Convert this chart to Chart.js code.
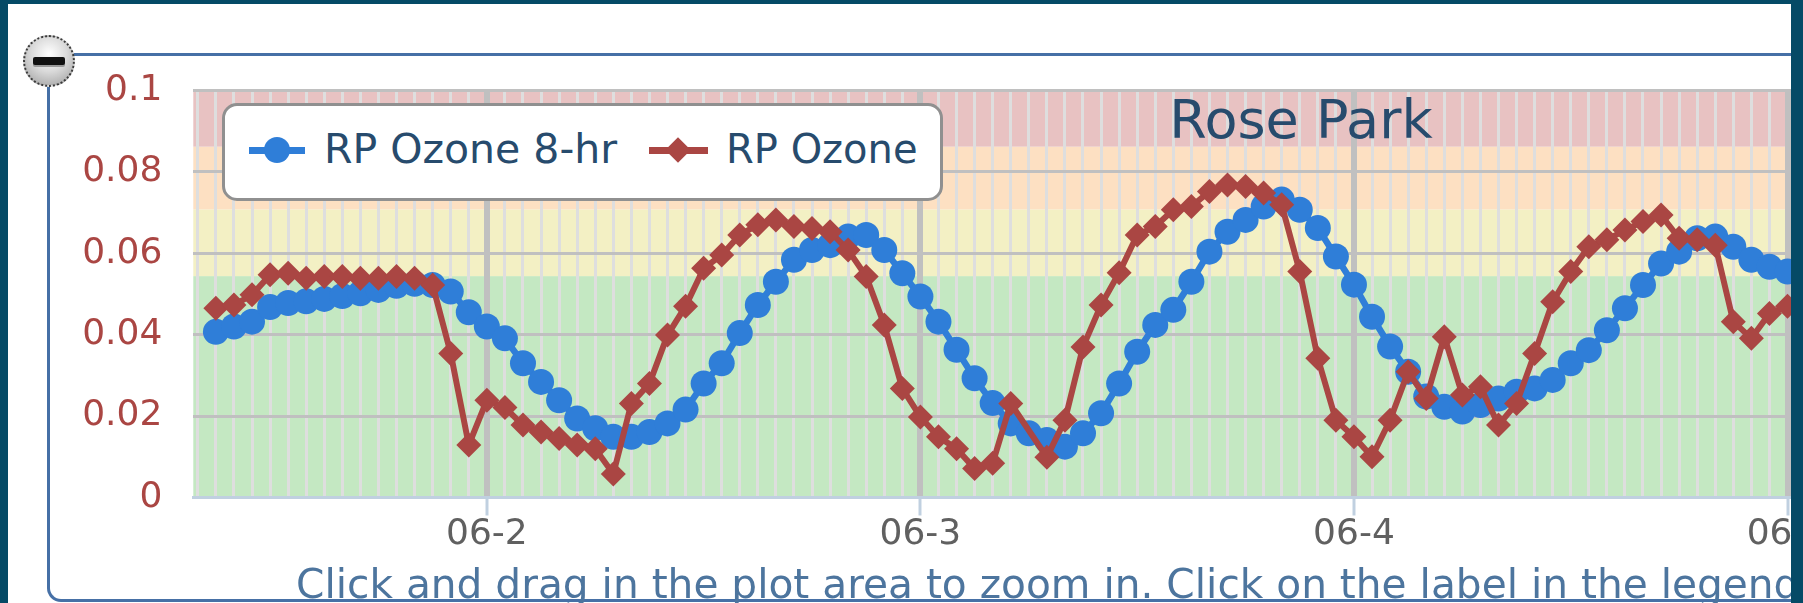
<!DOCTYPE html>
<html lang="en">
<head>
  <meta charset="UTF-8">
  <title>Rose Park Ozone</title>
  <script src="https://cdn.jsdelivr.net/npm/chart.js"></script>
  <style>
    html, body { margin: 0; padding: 0; }
    body { width: 1803px; height: 603px; background: #054a66; overflow: hidden; position: relative; font-family: 'DejaVu Sans', sans-serif; }
    #frame { position: absolute; left: 0; top: 0; width: 1791px; height: 603px; background: #fff; overflow: hidden; }
    #stripTop { position: absolute; left: 0; top: 0; width: 1803px; height: 4px; background: #054a66; z-index: 9; }
    #stripLeft { position: absolute; left: 0; top: 0; width: 8px; height: 603px; background: #054a66; z-index: 9; }
    #fieldset { position: absolute; left: 47px; top: 53px; width: 1800px; height: 549px; box-sizing: border-box;
      border-top: 3px solid #4670a6; border-left: 3px solid #4670a6; border-bottom: 3px solid #4670a6; border-bottom-left-radius: 14px; }
    #toggle { position: absolute; left: 23px; top: 35px; width: 52px; height: 52px; border-radius: 50%; box-sizing: border-box;
      border: 2px dotted #3a3a3a; background: radial-gradient(circle at 50% 35%, #ffffff 0%, #dadada 45%, #9a9a9a 100%); }
    #toggle::after { content: ''; position: absolute; left: 8px; right: 8px; top: 20px; height: 8px; background: #111; border-radius: 2px; box-shadow: 0 2px 0 #999; }
    #chart { position: absolute; left: 0; top: 0; }
    .txt { position: absolute; white-space: nowrap; }
    #title { left: 1001px; top: 93px; width: 600px; text-align: center; font-size: 54px; line-height: 54px; color: #274b6d; }
    #legendBox { position: absolute; left: 222px; top: 103px; width: 721px; height: 98px; box-sizing: border-box;
      border: 3px solid #909090; border-radius: 15px; background: #fff; }
    .legText { top: 129px; font-size: 40px; line-height: 40px; color: #274b6d; }
    .legLine { position: absolute; top: 147px; height: 7px; }
    #caption { left: 296px; top: 564px; font-size: 40.7px; line-height: 40px; color: #4d759e; }
  </style>
</head>
<body>
  <div id="frame">
    <div id="fieldset"></div>
    <canvas id="chart" width="1880" height="603" style="width:1880px;height:603px"></canvas>
    <div id="title" class="txt">Rose Park</div>
    <div id="legendBox"></div>
    <div class="legLine" style="left:249px;width:56px;background:#2f7ed8"></div>
    <div style="position:absolute;left:264px;top:137px;width:26px;height:26px;border-radius:50%;background:#2f7ed8"></div>
    <div class="txt legText" style="left:324px;font-size:41px">RP Ozone 8-hr</div>
    <div class="legLine" style="left:649px;width:59px;background:#aa4643"></div>
    <div style="position:absolute;left:669px;top:141px;width:18px;height:18px;transform:rotate(45deg);background:#aa4643"></div>
    <div class="txt legText" style="left:726px">RP Ozone</div>
    <div id="caption" class="txt">Click and drag in the plot area to zoom in. Click on the label in the legend</div>
    <div id="toggle"></div>
  </div>
  <div id="stripTop"></div>
  <div id="stripLeft"></div>

  <script>
    // hourly values, first point at 06-1 09:00 (hours counted from 06-1 00:00)
    const FIRST_HOUR = 9;
    const ozone8hr = [
      0.0407, 0.0420, 0.0432, 0.0468, 0.0478, 0.0482, 0.0488, 0.0495, 0.0502, 0.0510, 0.0520, 0.0525, 0.0522, 0.0506, 0.0455,
      0.0420, 0.0391, 0.0330, 0.0284, 0.0239, 0.0194, 0.0170, 0.0149, 0.0149, 0.0161, 0.0182, 0.0216, 0.0280, 0.0330,
      0.0404, 0.0473, 0.0530, 0.0584, 0.0608, 0.0620, 0.0641, 0.0645, 0.0608, 0.0551,
      0.0494, 0.0432, 0.0363, 0.0293, 0.0232, 0.0182, 0.0158, 0.0141, 0.0125, 0.0158, 0.0207, 0.0280, 0.0358, 0.0424,
      0.0461, 0.0530, 0.0604, 0.0653, 0.0682, 0.0715, 0.0732, 0.0707, 0.0662, 0.0592, 0.0523, 0.0444, 0.0371, 0.0309,
      0.0248, 0.0223, 0.0211, 0.0227, 0.0243, 0.0260, 0.0268, 0.0289, 0.0330, 0.0362, 0.0411, 0.0465, 0.0522, 0.0575,
      0.0604, 0.0637, 0.0641, 0.0616, 0.0584, 0.0567, 0.0555
    ];
    const ozone = [
      0.0465, 0.0473, 0.0498, 0.0547, 0.0551, 0.0539, 0.0543, 0.0543, 0.0539, 0.0539, 0.0543, 0.0539, 0.0522, 0.0354, 0.0129,
      0.0239, 0.0221, 0.0178, 0.0161, 0.0145, 0.0129, 0.0120, 0.0058, 0.0231, 0.0280, 0.0399, 0.0470, 0.0563, 0.0596,
      0.0645, 0.0670, 0.0682, 0.0666, 0.0661, 0.0653, 0.0608, 0.0543, 0.0424, 0.0268,
      0.0198, 0.0149, 0.0120, 0.0071, 0.0084, 0.0231, null, 0.0099, 0.0190, 0.0370, 0.0473, 0.0552, 0.0645, 0.0666,
      0.0707, 0.0715, 0.0752, 0.0768, 0.0764, 0.0748, 0.0719, 0.0555, 0.0342, 0.0190, 0.0149, 0.0100, 0.0190, 0.0309,
      0.0243, 0.0395, 0.0252, 0.0272, 0.0178, 0.0231, 0.0354, 0.0481, 0.0555, 0.0616, 0.0633, 0.0657, 0.0678, 0.0694,
      0.0637, 0.0633, 0.0620, 0.0432, 0.0391, 0.0452, 0.0470
    ];

    const dayTicks = [24, 48, 72, 96];
    const dayLabels = ['06-2', '06-3', '06-4', '06-5'];
    const yTicks = [0, 0.02, 0.04, 0.06, 0.08, 0.1];
    const yLabels = ['0', '0.02', '0.04', '0.06', '0.08', '0.1'];

    // air quality bands (good / moderate / usg / unhealthy)
    const bandEdges = [0, 0.0544, 0.0708, 0.0862, 0.1];
    const bandColors = ['#c4e8c2', '#f3f0c4', '#fde0c2', '#e8c2c2'];

    const X_MIN = 7.75, X_MAX = 100.4;
    const FONT = "'DejaVu Sans', sans-serif";
    const BLUE = '#2f7ed8', RED = '#aa4643';

    const hourTicks = [];
    for (let h = Math.ceil(X_MIN); h <= X_MAX; h++) hourTicks.push(h);
    const isDay = v => dayTicks.indexOf(v) >= 0;

    const toPoints = arr => arr.map((v, i) => ({ x: FIRST_HOUR + i, y: v }));

    const bandsPlugin = {
      id: 'bands',
      beforeDraw(chart) {
        const { ctx, chartArea, scales } = chart;
        ctx.save();
        for (let i = 0; i < bandColors.length; i++) {
          const top = scales.y.getPixelForValue(bandEdges[i + 1]);
          const bot = scales.y.getPixelForValue(bandEdges[i]);
          ctx.fillStyle = bandColors[i];
          ctx.fillRect(chartArea.left, top, chartArea.right - chartArea.left, bot - top);
        }
        ctx.restore();
      }
    };

    const ctx = document.getElementById('chart').getContext('2d');
    new Chart(ctx, {
      type: 'line',
      data: {
        datasets: [
          {
            label: 'RP Ozone 8-hr',
            data: toPoints(ozone8hr),
            borderColor: BLUE,
            backgroundColor: BLUE,
            borderWidth: 6.5,
            pointStyle: 'circle',
            pointRadius: 13,
            pointBorderWidth: 0,
            order: 1
          },
          {
            label: 'RP Ozone',
            data: toPoints(ozone),
            borderColor: RED,
            backgroundColor: RED,
            borderWidth: 6,
            pointStyle: 'rectRot',
            pointRadius: 12.5,
            pointBorderWidth: 0,
            spanGaps: true,
            order: 0
          }
        ]
      },
      options: {
        responsive: false,
        animation: false,
        devicePixelRatio: 1,
        layout: { padding: { left: 0, top: 90.5, right: 0, bottom: 0 } },
        plugins: {
          legend: { display: false },
          title: { display: false },
          tooltip: { enabled: false }
        },
        scales: {
          x: {
            type: 'linear',
            min: X_MIN,
            max: X_MAX,
            afterBuildTicks: s => { s.ticks = hourTicks.map(v => ({ value: v })); },
            afterFit: s => { s.height = 105.5; },
            grid: {
              color: c => isDay(c.tick.value) ? '#c0c0c0' : '#dedede',
              lineWidth: c => isDay(c.tick.value) ? 6 : 3,
              tickColor: c => isDay(c.tick.value) ? '#c0d0e0' : 'rgba(0,0,0,0)',
              tickWidth: 3,
              tickLength: 18,
              drawTicks: true
            },
            border: { display: true, color: '#c0d0e0', width: 3 },
            ticks: {
              autoSkip: false,
              maxRotation: 0,
              padding: 1,
              color: '#606060',
              font: { family: FONT, size: 36, lineHeight: 1 },
              callback: v => isDay(v) ? dayLabels[dayTicks.indexOf(v)] : ''
            }
          },
          y: {
            min: 0,
            max: 0.1,
            afterBuildTicks: s => { s.ticks = yTicks.map(v => ({ value: v })); },
            afterFit: s => { s.width = 193.3; },
            grid: {
              color: c => c.tick.value === 0 ? 'rgba(0,0,0,0)' : '#c0c0c0',
              lineWidth: 3,
              drawTicks: false
            },
            border: { display: false },
            ticks: {
              padding: 31,
              color: RED,
              font: { family: FONT, size: 36 },
              callback: (v, i) => yLabels[i]
            }
          }
        }
      },
      plugins: [bandsPlugin]
    });
  </script>
</body>
</html>
